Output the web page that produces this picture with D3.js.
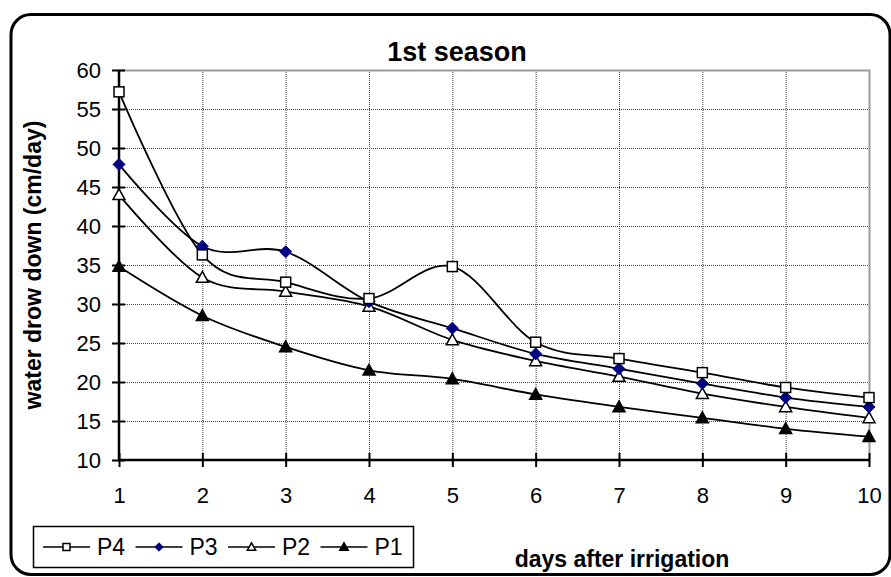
<!DOCTYPE html>
<html>
<head>
<meta charset="utf-8">
<script src="https://cdn.jsdelivr.net/npm/d3@7"></script>
<style>
  body { margin: 0; background: #fff; }
  svg { display: block; font-family: Arial, "Liberation Sans", sans-serif; }
</style>
</head>
<body>
<svg id="chart" width="891" height="577"></svg>
<script>
// chart values
var days = [1, 2, 3, 4, 5, 6, 7, 8, 9, 10];
var yTicks = [10, 15, 20, 25, 30, 35, 40, 45, 50, 55, 60];
var p4 = [57.2, 36.3, 32.8, 30.7, 34.8, 25.1, 23.0, 21.2, 19.3, 18.0];
var p3 = [47.9, 37.4, 36.7, 30.3, 26.9, 23.6, 21.7, 19.8, 18.0, 16.8];
var p2 = [44.0, 33.4, 31.6, 29.7, 25.4, 22.7, 20.7, 18.5, 16.8, 15.4];
var p1 = [34.8, 28.5, 24.5, 21.5, 20.4, 18.4, 16.8, 15.4, 14.0, 13.0];

var seriesNames = ['P4', 'P3', 'P2', 'P1'];
var seriesVals = [p4, p3, p2, p1];
var markerType = ['square', 'diamond', 'triangle', 'triangle'];
var markerFill = ['#fff', '#000080', '#fff', '#000'];
var markerStroke = ['#000', '#000080', '#000', '#000'];

var svg = d3.select('#chart');

// outer rounded frame
svg.append('rect')
    .attr('x', 11).attr('y', 14.5)
    .attr('width', 879).attr('height', 560)
    .attr('rx', 20).attr('ry', 20)
    .attr('fill', 'none').attr('stroke', '#000').attr('stroke-width', 3);

var pLeft = 119, pRight = 869, pTop = 70, pBottom = 460;

var x = d3.scaleLinear().domain([1, 10]).range([pLeft, pRight]);
var y = d3.scaleLinear().domain([10, 60]).range([pBottom, pTop]);

// grid
var grid = svg.append('g');
grid.selectAll('.hg')
    .data(yTicks.filter(function(d){ return d > 10; }))
    .enter().append('line')
    .attr('x1', pLeft).attr('x2', pRight)
    .attr('y1', function(d){ return y(d) + 0.5; })
    .attr('y2', function(d){ return y(d) + 0.5; })
    .attr('stroke', '#444').attr('stroke-width', 1)
    .attr('stroke-dasharray', '1,1');
grid.selectAll('.vg')
    .data(days.filter(function(d){ return d > 1; }))
    .enter().append('line')
    .attr('x1', function(d){ return x(d) + 0.5; })
    .attr('x2', function(d){ return x(d) + 0.5; })
    .attr('y1', pTop).attr('y2', pBottom)
    .attr('stroke', '#444').attr('stroke-width', 1)
    .attr('stroke-dasharray', '1,1');

// plot frame top / right in grey
svg.append('path')
    .attr('d', 'M' + pLeft + ',' + (pTop + 0.5) + 'H' + (pRight + 0.5) + 'V' + pBottom)
    .attr('fill', 'none').attr('stroke', '#999').attr('stroke-width', 2);

// axes
var yAxis = d3.axisLeft(y).tickValues(yTicks).tickSize(7).tickPadding(11);
var gy = svg.append('g').attr('transform', 'translate(' + pLeft + ',0)').call(yAxis);
gy.select('.domain').attr('stroke-width', 2.5).attr('d', 'M0,' + pTop + 'V' + pBottom);
gy.selectAll('.tick line').attr('x2', 6).attr('x1', -7).attr('stroke-width', 2);
gy.selectAll('.tick text').attr('font-size', 22).attr('font-family', 'Arial, "Liberation Sans", sans-serif').attr('fill', '#000');

var xAxis = d3.axisBottom(x).tickValues(days).tickFormat(d3.format('d')).tickSize(7).tickPadding(20);
var gx = svg.append('g').attr('transform', 'translate(0,' + pBottom + ')').call(xAxis);
gx.select('.domain').attr('stroke-width', 2.5).attr('d', 'M' + pLeft + ',0H' + pRight);
gx.selectAll('.tick line').attr('y1', -7).attr('y2', 7).attr('stroke-width', 2);
gx.selectAll('.tick text').attr('font-size', 22).attr('font-family', 'Arial, "Liberation Sans", sans-serif').attr('fill', '#000');

// markers
var drawMarker = function(g, type, cx, cy, s, fill, stroke) {
    if (type === 'square') {
        g.append('rect').attr('x', cx - s / 2).attr('y', cy - s / 2)
            .attr('width', s).attr('height', s)
            .attr('fill', fill).attr('stroke', stroke).attr('stroke-width', 1.5);
    } else if (type === 'diamond') {
        var h = s * 0.6;
        g.append('path')
            .attr('d', 'M' + cx + ',' + (cy - h) + 'L' + (cx + h) + ',' + cy + 'L' + cx + ',' + (cy + h) + 'L' + (cx - h) + ',' + cy + 'Z')
            .attr('fill', fill).attr('stroke', stroke).attr('stroke-width', 1);
    } else {
        var t = s * 0.6;
        g.append('path')
            .attr('d', 'M' + cx + ',' + (cy - t) + 'L' + (cx + t) + ',' + (cy + t * 0.8) + 'L' + (cx - t) + ',' + (cy + t * 0.8) + 'Z')
            .attr('fill', fill).attr('stroke', stroke).attr('stroke-width', 1.5);
    }
};

var line = d3.line()
    .x(function(d, i){ return x(days[i]); })
    .y(function(d){ return y(d); })
    .curve(d3.curveCatmullRom.alpha(0));

var plot = svg.append('g');
for (var k = seriesVals.length - 1; k >= 0; k--) {
    plot.append('path')
        .datum(seriesVals[k])
        .attr('d', line)
        .attr('fill', 'none').attr('stroke', '#000').attr('stroke-width', 1.8);
}
for (var k2 = seriesVals.length - 1; k2 >= 0; k2--) {
    for (var i = 0; i < days.length; i++) {
        drawMarker(plot, markerType[k2], x(days[i]), y(seriesVals[k2][i]), 10, markerFill[k2], markerStroke[k2]);
    }
}

// title
svg.append('text')
    .attr('x', 457).attr('y', 61)
    .attr('text-anchor', 'middle')
    .attr('font-size', 27).attr('font-weight', 'bold')
    .text('1st season');

// axis titles
svg.append('text')
    .attr('transform', 'translate(41,' + ((pTop + pBottom) / 2) + ') rotate(-90)')
    .attr('text-anchor', 'middle')
    .attr('font-size', 23).attr('font-weight', 'bold')
    .text('water drow down (cm/day)');

svg.append('text')
    .attr('x', 622).attr('y', 567)
    .attr('text-anchor', 'middle')
    .attr('font-size', 23).attr('font-weight', 'bold')
    .text('days after irrigation');

// legend
var legend = svg.append('g');
legend.append('rect')
    .attr('x', 33.5).attr('y', 526.5).attr('width', 380).attr('height', 41)
    .attr('fill', '#fff').attr('stroke', '#000').attr('stroke-width', 1.5);

seriesNames.forEach(function(name, j) {
    var lx = 43 + j * 92.5;
    legend.append('line')
        .attr('x1', lx).attr('x2', lx + 47)
        .attr('y1', 547).attr('y2', 547)
        .attr('stroke', '#000').attr('stroke-width', 1.5);
    drawMarker(legend, markerType[j], lx + 23.5, 547, 7, markerFill[j], markerStroke[j]);
    legend.append('text')
        .attr('x', lx + 54).attr('y', 555)
        .attr('font-size', 23)
        .text(name);
});
</script>
</body>
</html>
